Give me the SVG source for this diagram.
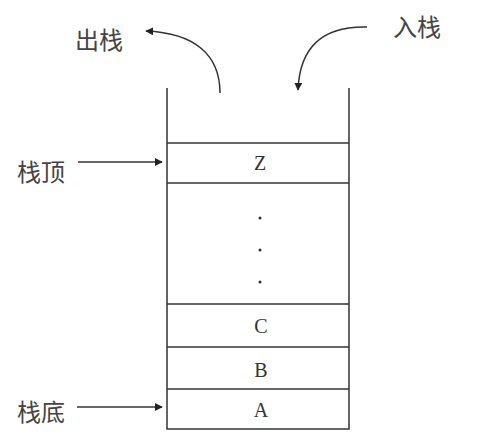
<svg xmlns="http://www.w3.org/2000/svg" width="497" height="442" viewBox="0 0 497 442">
<style>
.cn{font-family:"Noto Sans CJK SC","Noto Sans CJK JP",sans-serif;font-size:24px;fill:#444}
.lt{font-family:"Liberation Serif",serif;font-size:20px;fill:#333;text-anchor:middle}
.ln{stroke:#333;stroke-width:1.5;fill:none}
</style>
<defs>
<marker id="ah" viewBox="0 0 10 10" refX="9" refY="5" markerWidth="8" markerHeight="8" markerUnits="userSpaceOnUse" orient="auto">
<path d="M0,0 L10,5 L0,10 z" fill="#222"/>
</marker>
</defs>
<rect width="497" height="442" fill="#fff"/>
<g id="stack">
<path class="ln" d="M167,88 V429 H349 V88"/>
<line class="ln" x1="167" y1="143" x2="349" y2="143"/>
<line class="ln" x1="167" y1="183" x2="349" y2="183"/>
<line class="ln" x1="167" y1="304" x2="349" y2="304"/>
<line class="ln" x1="167" y1="347" x2="349" y2="347"/>
<line class="ln" x1="167" y1="389" x2="349" y2="389"/>
</g>
<g id="cellZ"><text class="lt" x="260" y="170">Z</text></g>
<g id="dots">
<circle cx="260" cy="218" r="1.5" fill="#333"/>
<circle cx="260" cy="250" r="1.5" fill="#333"/>
<circle cx="260" cy="282" r="1.5" fill="#333"/>
</g>
<g id="cellC"><text class="lt" x="261" y="333">C</text></g>
<g id="cellB"><text class="lt" x="261" y="377">B</text></g>
<g id="cellA"><text class="lt" x="261" y="417">A</text></g>
<g id="labelOut"><text class="cn" x="75" y="49">出栈</text></g>
<g id="labelIn"><text class="cn" x="393" y="36">入栈</text></g>
<g id="labelTop"><text class="cn" x="17" y="181">栈顶</text></g>
<g id="labelBottom"><text class="cn" x="17" y="421">栈底</text></g>
<g id="connectors">
<path class="ln" marker-end="url(#ah)" d="M220,93 C220,55 195,33 146,31"/>
<path class="ln" marker-end="url(#ah)" d="M367,27 C330,26 300,40 298,90"/>
<line class="ln" marker-end="url(#ah)" x1="78" y1="162" x2="162" y2="162"/>
<line class="ln" marker-end="url(#ah)" x1="77" y1="407" x2="162" y2="407"/>
</g>
</svg>
